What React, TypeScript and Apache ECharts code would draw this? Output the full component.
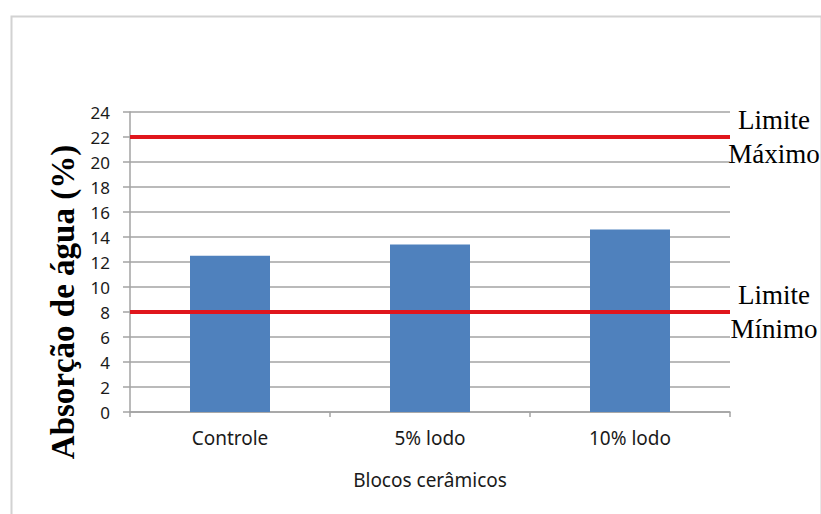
import React, { useEffect, useRef } from "react";
import * as echarts from "echarts";

// Water absorption of ceramic blocks, with the normative limits
const categories = ["Controle", "5% lodo", "10% lodo"];
const absorption = [12.5, 13.4, 14.6];
const limitValues = [22, 8];
const limitLabels = ["Limite\nMáximo", "Limite\nMínimo"];
const yTicks = { min: 0, max: 24, interval: 2 };

export default function App() {
  const ref = useRef<HTMLDivElement>(null);

  useEffect(() => {
    if (!ref.current) return;
    const chart = echarts.init(ref.current, undefined, { renderer: "svg" });
    const sans = "'Noto Sans', 'Open Sans', sans-serif";
    const serif = "'Liberation Serif', 'DejaVu Serif', serif";
    const gridColor = "#a3a3a3";

    chart.setOption({
      animation: false,
      backgroundColor: "#ffffff",
      grid: { left: 130, right: 91, top: 112, bottom: 102 },
      graphic: [
        {
          type: "rect",
          left: 9,
          top: 14,
          shape: { width: 810, height: 620 },
          style: { fill: "none", stroke: "#d2d2d2", lineWidth: 2 },
          silent: true,
        },
      ],
      xAxis: {
        type: "category",
        data: categories,
        name: "Blocos cerâmicos",
        nameLocation: "middle",
        nameGap: 58,
        nameTextStyle: { fontFamily: sans, fontSize: 19, color: "#1a1a1a" },
        axisLine: { lineStyle: { color: gridColor, width: 1.5 } },
        axisTick: { show: true, length: 5, lineStyle: { color: gridColor, width: 1.5 } },
        axisLabel: { fontFamily: sans, fontSize: 19, color: "#1a1a1a", margin: 16 },
      },
      yAxis: {
        type: "value",
        min: yTicks.min,
        max: yTicks.max,
        interval: yTicks.interval,
        name: "Absorção de água (%)",
        nameLocation: "middle",
        nameRotate: 90,
        nameGap: 50,
        nameTextStyle: {
          fontFamily: serif,
          fontWeight: "bold",
          fontSize: 33,
          color: "#000",
          padding: [0, 80, 0, 0],
        },
        axisLine: { show: true, lineStyle: { color: gridColor, width: 1.5 } },
        axisTick: { show: true, length: 7, lineStyle: { color: gridColor, width: 1.5 } },
        axisLabel: { fontFamily: sans, fontSize: 17, color: "#1a1a1a", margin: 20 },
        splitLine: { show: true, lineStyle: { color: gridColor, width: 1.5 } },
      },
      series: [
        {
          type: "bar",
          data: absorption,
          barWidth: "40%",
          itemStyle: { color: "#4f81bd" },
          markLine: {
            silent: true,
            symbol: "none",
            lineStyle: { color: "#e0161c", width: 4, type: "solid" },
            label: {
              show: true,
              position: "end",
              distance: 44,
              align: "center",
              fontFamily: serif,
              fontSize: 27,
              lineHeight: 34,
              color: "#000",
            },
            data: limitValues.map((v, i) => ({
              yAxis: v,
              label: { formatter: limitLabels[i] },
            })),
          },
        },
      ],
    });

    return () => chart.dispose();
  }, []);

  return (
    <div
      ref={ref}
      style={{ position: "fixed", left: 0, top: 0, width: 821, height: 514 }}
    />
  );
}
